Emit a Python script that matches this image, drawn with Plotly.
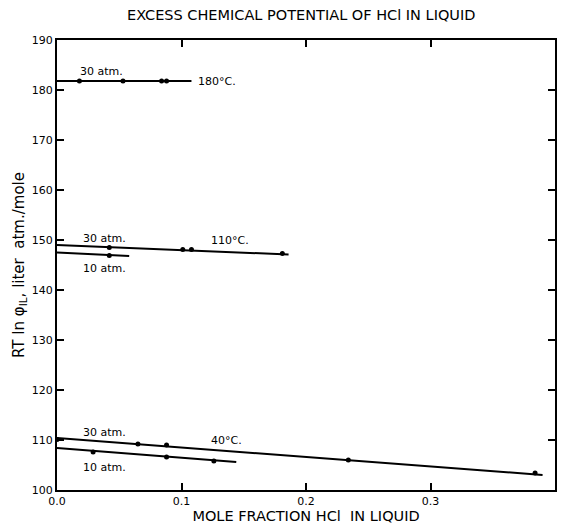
import plotly.graph_objects as go

# ---- data ----
# 180 C, 30 atm
x180_30 = [0.018, 0.053, 0.084, 0.088]
y180_30 = [181.8, 181.8, 181.8, 181.8]
fit180_30_x = [0.0, 0.108]
fit180_30_y = [181.8, 181.8]

# 110 C, 30 atm
x110_30 = [0.042, 0.101, 0.108, 0.181]
y110_30 = [148.5, 148.1, 148.1, 147.3]
fit110_30_x = [0.0, 0.186]
fit110_30_y = [149.0, 147.1]

# 110 C, 10 atm
x110_10 = [0.042]
y110_10 = [146.9]
fit110_10_x = [0.0, 0.058]
fit110_10_y = [147.5, 146.8]

# 40 C, 30 atm
x40_30 = [0.0, 0.065, 0.088, 0.234, 0.384]
y40_30 = [110.1, 109.2, 109.0, 106.0, 103.4]
fit40_30_x = [0.0, 0.39]
fit40_30_y = [110.4, 103.0]

# 40 C, 10 atm
x40_10 = [0.029, 0.088, 0.126]
y40_10 = [107.6, 106.6, 105.8]
fit40_10_x = [0.0, 0.144]
fit40_10_y = [108.4, 105.6]

x_ticks = [0.0, 0.1, 0.2, 0.3, 0.4]
x_tick_labels = ["0.0", "0.1", "0.2", "0.3", "0.4"]
y_ticks = [100, 110, 120, 130, 140, 150, 160, 170, 180, 190]

FONT = "DejaVu Sans"

fig = go.Figure()

fits = [(fit180_30_x, fit180_30_y), (fit110_30_x, fit110_30_y), (fit110_10_x, fit110_10_y),
        (fit40_30_x, fit40_30_y), (fit40_10_x, fit40_10_y)]
for fx, fy in fits:
    fig.add_trace(go.Scatter(x=fx, y=fy, mode="lines",
                             line=dict(color="black", width=2), showlegend=False,
                             hoverinfo="skip"))

pts = [(x180_30, y180_30), (x110_30, y110_30), (x110_10, y110_10),
       (x40_30, y40_30), (x40_10, y40_10)]
for px, py in pts:
    fig.add_trace(go.Scatter(x=px, y=py, mode="markers",
                             marker=dict(color="black", size=5), showlegend=False))

labels = [
    (0.036, 183.7, "30 atm.", "center"),
    (0.112, 181.7, "180°C.", "left"),
    (0.038, 150.3, "30 atm.", "center"),
    (0.038, 144.4, "10 atm.", "center"),
    (0.122, 150.0, "110°C.", "left"),
    (0.038, 111.5, "30 atm.", "center"),
    (0.038, 104.6, "10 atm.", "center"),
    (0.122, 110.0, "40°C.", "left"),
]
for lx, ly, txt, anc in labels:
    fig.add_annotation(x=lx, y=ly, text=txt, showarrow=False, xanchor=anc,
                       font=dict(family=FONT, size=11, color="black"))

fig.update_layout(
    width=563, height=528,
    margin=dict(l=57, r=6, t=40, b=38),
    paper_bgcolor="white", plot_bgcolor="white",
    font=dict(family=FONT, color="black"),
    title=dict(text="EXCESS CHEMICAL POTENTIAL OF HCl IN LIQUID",
               x=0.535, xanchor="center", y=0.972, yanchor="middle",
               font=dict(family=FONT, size=14.5, color="black")),
)
fig.update_xaxes(range=[0, 0.4], tickvals=x_ticks, ticktext=x_tick_labels,
                 ticks="inside", ticklen=7, tickwidth=1.5, tickcolor="black",
                 showline=True, linecolor="black", linewidth=2, mirror="allticks",
                 showgrid=False, zeroline=False,
                 tickfont=dict(family=FONT, size=11, color="black"),
                 title=dict(text="MOLE FRACTION HCl  IN LIQUID", standoff=4,
                            font=dict(family=FONT, size=14.5, color="black")))
fig.update_yaxes(range=[100, 190], tickvals=y_ticks,
                 ticks="inside", ticklen=7, tickwidth=1.5, tickcolor="black",
                 showline=True, linecolor="black", linewidth=2, mirror="allticks",
                 showgrid=False, zeroline=False,
                 tickfont=dict(family=FONT, size=11, color="black"),
                 title=dict(text="RT ln φ<sub>IL</sub>, liter  atm./mole", standoff=4,
                            font=dict(family=FONT, size=15, color="black")))

fig.write_html("out.html")
